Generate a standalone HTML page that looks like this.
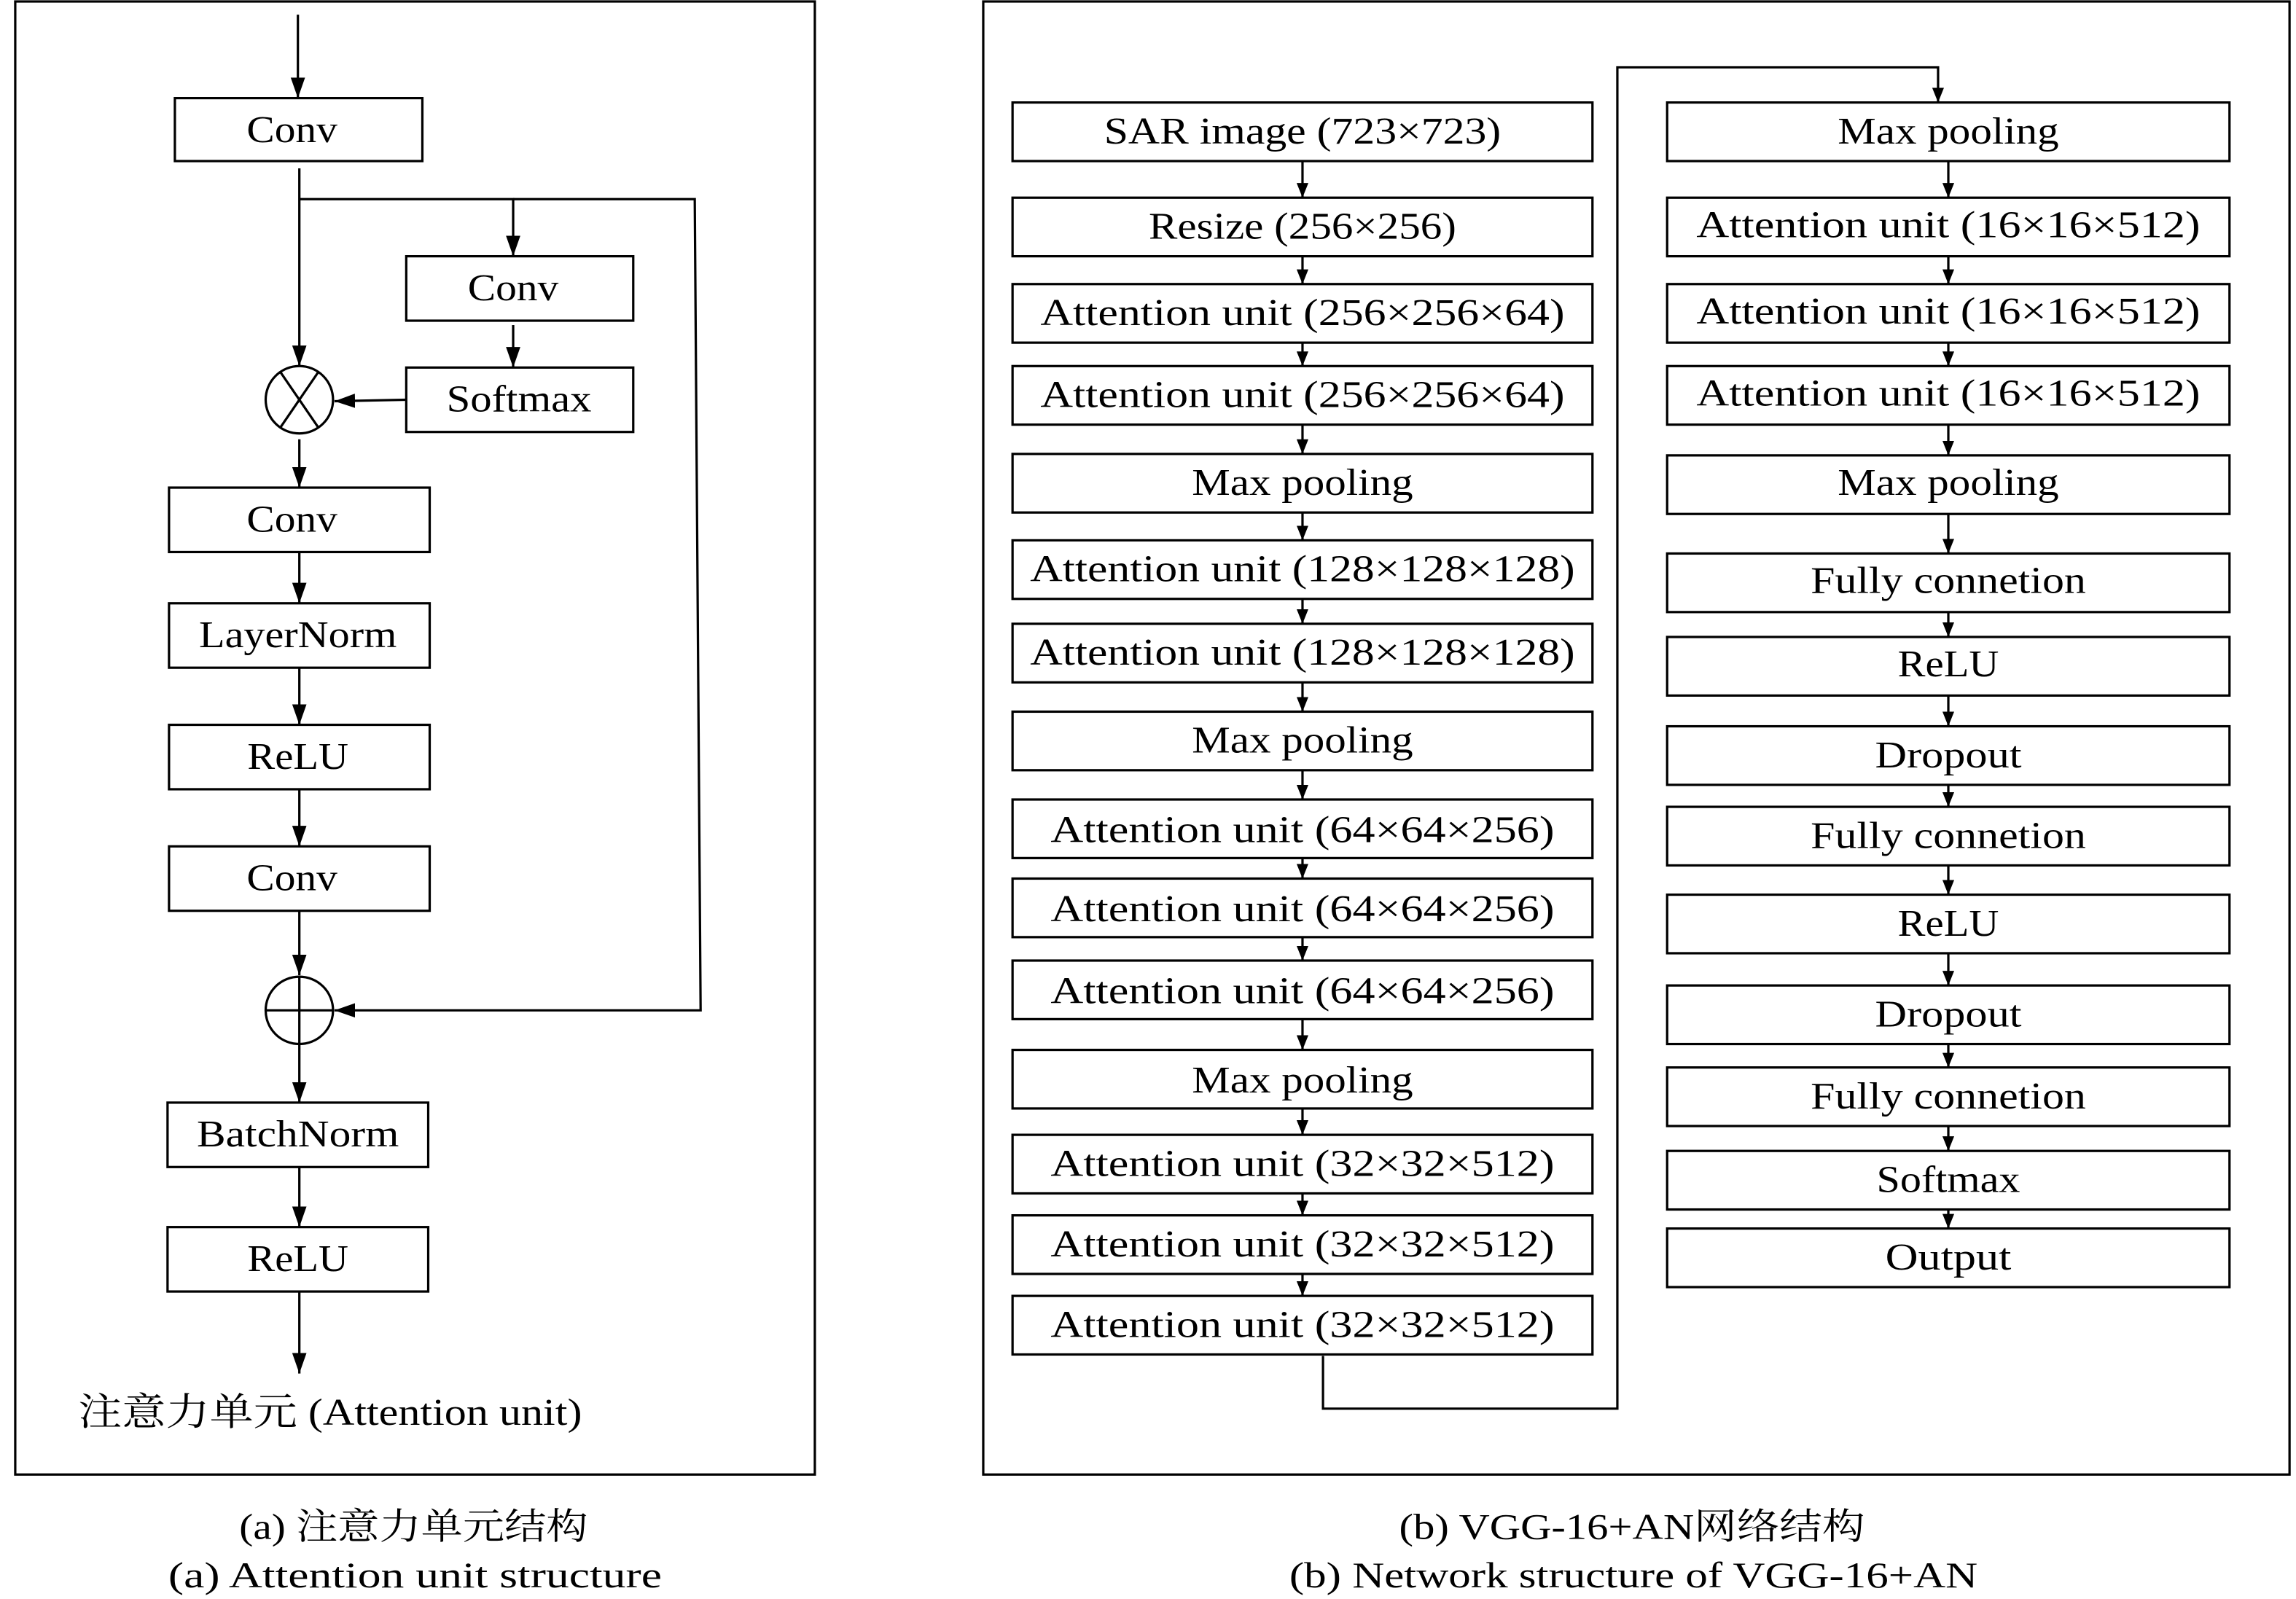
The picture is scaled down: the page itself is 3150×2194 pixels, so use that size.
<!DOCTYPE html>
<html><head><meta charset="utf-8"><style>
html,body{margin:0;padding:0;background:#fff;}
svg{display:block;}
text{font-family:"Liberation Serif","Noto Serif CJK SC",serif;fill:#000;}
</style></head><body>
<svg width="3150" height="2194" viewBox="0 0 1567 1092" xmlns="http://www.w3.org/2000/svg">
<defs>
<marker id="a" viewBox="0 0 10 10" refX="10" refY="5" markerWidth="10" markerHeight="10" markerUnits="userSpaceOnUse" orient="auto"><path d="M0,1 L10,5 L0,9 z" fill="#000"/></marker>
<marker id="b" viewBox="0 0 10 10" refX="10" refY="5" markerWidth="14" markerHeight="14" markerUnits="userSpaceOnUse" orient="auto"><path d="M0,1.5 L10,5 L0,8.5 z" fill="#000"/></marker>
</defs>
<g fill="none" stroke="#000" stroke-width="1.6">
<rect x="10" y="1" width="546" height="1006"/>
<rect x="671" y="1" width="892" height="1006"/>
<!-- left panel -->
<rect x="119" y="67" width="169" height="43"/>
<rect x="277" y="175" width="155" height="44"/>
<rect x="277" y="251" width="155" height="44"/>
<rect x="115" y="333" width="178" height="44"/>
<rect x="115" y="412" width="178" height="44"/>
<rect x="115" y="495" width="178" height="44"/>
<rect x="115" y="578" width="178" height="44"/>
<rect x="114" y="753" width="178" height="44"/>
<rect x="114" y="838" width="178" height="44"/>
<circle cx="204" cy="273" r="23"/>
<line x1="191" y1="254" x2="217" y2="292"/><line x1="217" y1="254" x2="191" y2="292"/>
<circle cx="204" cy="690" r="23"/>
<line x1="181" y1="690" x2="227" y2="690"/><line x1="204" y1="667" x2="204" y2="713"/>
</g>
<g stroke="#000" stroke-width="1.6" fill="none" marker-end="url(#b)">
<line x1="203" y1="10" x2="203" y2="67"/>
<line x1="204" y1="115" x2="204" y2="250"/>
<polyline points="204,136 350,136 350,175"/>
<line x1="350" y1="222" x2="350" y2="251"/>
<line x1="277" y1="273" x2="228" y2="274"/>
<polyline points="350,136 474,136 478,690 228,690"/>
<line x1="204" y1="300" x2="204" y2="333"/>
<line x1="204" y1="377" x2="204" y2="412"/>
<line x1="204" y1="456" x2="204" y2="495"/>
<line x1="204" y1="539" x2="204" y2="578"/>
<line x1="204" y1="622" x2="204" y2="666"/>
<line x1="204" y1="713" x2="204" y2="753"/>
<line x1="204" y1="797" x2="204" y2="838"/>
<line x1="204" y1="882" x2="204" y2="938"/>
</g>
<g font-size="26">
<text x="199" y="97" text-anchor="middle" textLength="62" lengthAdjust="spacingAndGlyphs">Conv</text>
<text x="350" y="205" text-anchor="middle" textLength="62" lengthAdjust="spacingAndGlyphs">Conv</text>
<text x="354" y="281" text-anchor="middle" textLength="99" lengthAdjust="spacingAndGlyphs">Softmax</text>
<text x="199" y="363" text-anchor="middle" textLength="62" lengthAdjust="spacingAndGlyphs">Conv</text>
<text x="203" y="442" text-anchor="middle" textLength="135" lengthAdjust="spacingAndGlyphs">LayerNorm</text>
<text x="203" y="525" text-anchor="middle" textLength="69" lengthAdjust="spacingAndGlyphs">ReLU</text>
<text x="199" y="608" text-anchor="middle" textLength="62" lengthAdjust="spacingAndGlyphs">Conv</text>
<text x="203" y="783" text-anchor="middle" textLength="138" lengthAdjust="spacingAndGlyphs">BatchNorm</text>
<text x="203" y="868" text-anchor="middle" textLength="69" lengthAdjust="spacingAndGlyphs">ReLU</text>
<text x="53" y="973" textLength="344" lengthAdjust="spacingAndGlyphs">注意力单元 (Attention unit)</text>
</g>
<!-- right panel boxes -->
<g fill="none" stroke="#000" stroke-width="1.6">
<rect x="691" y="70" width="396" height="40"/><rect x="691" y="135" width="396" height="40"/>
<rect x="691" y="194" width="396" height="40"/><rect x="691" y="250" width="396" height="40"/>
<rect x="691" y="310" width="396" height="40"/><rect x="691" y="369" width="396" height="40"/>
<rect x="691" y="426" width="396" height="40"/><rect x="691" y="486" width="396" height="40"/>
<rect x="691" y="546" width="396" height="40"/><rect x="691" y="600" width="396" height="40"/>
<rect x="691" y="656" width="396" height="40"/><rect x="691" y="717" width="396" height="40"/>
<rect x="691" y="775" width="396" height="40"/><rect x="691" y="830" width="396" height="40"/>
<rect x="691" y="885" width="396" height="40"/>
<rect x="1138" y="70" width="384" height="40"/><rect x="1138" y="135" width="384" height="40"/>
<rect x="1138" y="194" width="384" height="40"/><rect x="1138" y="250" width="384" height="40"/>
<rect x="1138" y="311" width="384" height="40"/><rect x="1138" y="378" width="384" height="40"/>
<rect x="1138" y="435" width="384" height="40"/><rect x="1138" y="496" width="384" height="40"/>
<rect x="1138" y="551" width="384" height="40"/><rect x="1138" y="611" width="384" height="40"/>
<rect x="1138" y="673" width="384" height="40"/><rect x="1138" y="729" width="384" height="40"/>
<rect x="1138" y="786" width="384" height="40"/><rect x="1138" y="839" width="384" height="40"/>
</g>
<g stroke="#000" stroke-width="1.6" fill="none" marker-end="url(#a)">
<line x1="889" y1="110" x2="889" y2="135"/><line x1="889" y1="175" x2="889" y2="194"/>
<line x1="889" y1="234" x2="889" y2="250"/><line x1="889" y1="290" x2="889" y2="310"/>
<line x1="889" y1="350" x2="889" y2="369"/><line x1="889" y1="409" x2="889" y2="426"/>
<line x1="889" y1="466" x2="889" y2="486"/><line x1="889" y1="526" x2="889" y2="546"/>
<line x1="889" y1="586" x2="889" y2="600"/><line x1="889" y1="640" x2="889" y2="656"/>
<line x1="889" y1="696" x2="889" y2="717"/><line x1="889" y1="757" x2="889" y2="775"/>
<line x1="889" y1="815" x2="889" y2="830"/><line x1="889" y1="870" x2="889" y2="885"/>
<polyline points="903,926 903,962 1104,962 1104,46 1323,46 1323,70"/>
<line x1="1330" y1="110" x2="1330" y2="135"/><line x1="1330" y1="175" x2="1330" y2="194"/>
<line x1="1330" y1="234" x2="1330" y2="250"/><line x1="1330" y1="290" x2="1330" y2="311"/>
<line x1="1330" y1="351" x2="1330" y2="378"/><line x1="1330" y1="418" x2="1330" y2="435"/>
<line x1="1330" y1="475" x2="1330" y2="496"/><line x1="1330" y1="536" x2="1330" y2="551"/>
<line x1="1330" y1="591" x2="1330" y2="611"/><line x1="1330" y1="651" x2="1330" y2="673"/>
<line x1="1330" y1="713" x2="1330" y2="729"/><line x1="1330" y1="769" x2="1330" y2="786"/>
<line x1="1330" y1="826" x2="1330" y2="839"/>
</g>
<g font-size="26" text-anchor="middle" lengthAdjust="spacingAndGlyphs">
<text x="889" y="98" textLength="271" lengthAdjust="spacingAndGlyphs">SAR image (723×723)</text>
<text x="889" y="163" textLength="210" lengthAdjust="spacingAndGlyphs">Resize (256×256)</text>
<text x="889" y="222" textLength="358" lengthAdjust="spacingAndGlyphs">Attention unit (256×256×64)</text>
<text x="889" y="278" textLength="358" lengthAdjust="spacingAndGlyphs">Attention unit (256×256×64)</text>
<text x="889" y="338" textLength="151" lengthAdjust="spacingAndGlyphs">Max pooling</text>
<text x="889" y="397" textLength="372" lengthAdjust="spacingAndGlyphs">Attention unit (128×128×128)</text>
<text x="889" y="454" textLength="372" lengthAdjust="spacingAndGlyphs">Attention unit (128×128×128)</text>
<text x="889" y="514" textLength="151" lengthAdjust="spacingAndGlyphs">Max pooling</text>
<text x="889" y="575" textLength="344" lengthAdjust="spacingAndGlyphs">Attention unit (64×64×256)</text>
<text x="889" y="629" textLength="344" lengthAdjust="spacingAndGlyphs">Attention unit (64×64×256)</text>
<text x="889" y="685" textLength="344" lengthAdjust="spacingAndGlyphs">Attention unit (64×64×256)</text>
<text x="889" y="746" textLength="151" lengthAdjust="spacingAndGlyphs">Max pooling</text>
<text x="889" y="803" textLength="344" lengthAdjust="spacingAndGlyphs">Attention unit (32×32×512)</text>
<text x="889" y="858" textLength="344" lengthAdjust="spacingAndGlyphs">Attention unit (32×32×512)</text>
<text x="889" y="913" textLength="344" lengthAdjust="spacingAndGlyphs">Attention unit (32×32×512)</text>
<text x="1330" y="98" textLength="151" lengthAdjust="spacingAndGlyphs">Max pooling</text>
<text x="1330" y="162" textLength="344" lengthAdjust="spacingAndGlyphs">Attention unit (16×16×512)</text>
<text x="1330" y="221" textLength="344" lengthAdjust="spacingAndGlyphs">Attention unit (16×16×512)</text>
<text x="1330" y="277" textLength="344" lengthAdjust="spacingAndGlyphs">Attention unit (16×16×512)</text>
<text x="1330" y="338" textLength="151" lengthAdjust="spacingAndGlyphs">Max pooling</text>
<text x="1330" y="405" textLength="188" lengthAdjust="spacingAndGlyphs">Fully connetion</text>
<text x="1330" y="462" textLength="69" lengthAdjust="spacingAndGlyphs">ReLU</text>
<text x="1330" y="524" textLength="100" lengthAdjust="spacingAndGlyphs">Dropout</text>
<text x="1330" y="579" textLength="188" lengthAdjust="spacingAndGlyphs">Fully connetion</text>
<text x="1330" y="639" textLength="69" lengthAdjust="spacingAndGlyphs">ReLU</text>
<text x="1330" y="701" textLength="100" lengthAdjust="spacingAndGlyphs">Dropout</text>
<text x="1330" y="757" textLength="188" lengthAdjust="spacingAndGlyphs">Fully connetion</text>
<text x="1330" y="814" textLength="98" lengthAdjust="spacingAndGlyphs">Softmax</text>
<text x="1330" y="867" textLength="86" lengthAdjust="spacingAndGlyphs">Output</text>
</g>
<g font-size="25" text-anchor="middle">
<text x="282" y="1051" textLength="238" lengthAdjust="spacingAndGlyphs">(a) 注意力单元结构</text>
<text x="283" y="1084" textLength="337" lengthAdjust="spacingAndGlyphs">(a) Attention unit structure</text>
<text x="1114" y="1051" textLength="318" lengthAdjust="spacingAndGlyphs">(b) VGG-16+AN网络结构</text>
<text x="1115" y="1084" textLength="470" lengthAdjust="spacingAndGlyphs">(b) Network structure of VGG-16+AN</text>
</g>
</svg>
</body></html>
